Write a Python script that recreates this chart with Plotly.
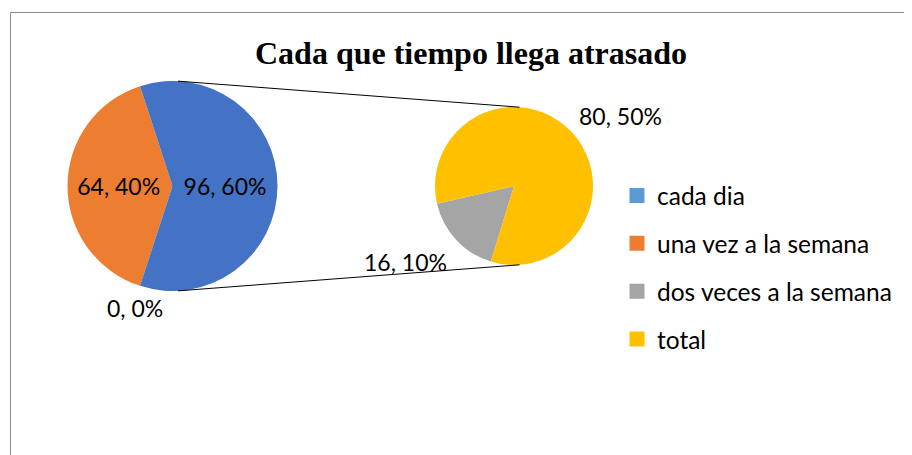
import math
import plotly.graph_objects as go

# ---------------- data ----------------
categories = ["cada dia", "una vez a la semana", "dos veces a la semana", "total"]
values = [0, 64, 16, 80]
legend_colors = ["#5B9BD5", "#ED7D31", "#A5A5A5", "#FFC000"]
other_label = "Otro"
other_color = "#4472C4"
title_text = "Cada que tiempo llega atrasado"

grand_total = sum(values)

# first pie: first two categories + the aggregated "other" slice
main_labels = [categories[0], categories[1], other_label]
main_values = [values[0], values[1], values[2] + values[3]]
main_colors = [legend_colors[0], legend_colors[1], other_color]
main_pct = [f"{round(100 * v / grand_total)}%" for v in main_values]

# second pie: the split-out categories
sec_labels = categories[2:]
sec_values = values[2:]
sec_colors = legend_colors[2:]
sec_pct = [f"{round(100 * v / grand_total)}%" for v in sec_values]

# ---------------- layout helpers ----------------
W, H = 912, 455
FONT = "Lato"
OFF = 8  # page body margin


def px(x):
    return (x - OFF) / W


def py(y):
    return 1 - (y - OFF) / H


main_c = (172.5, 186.0)
main_r = 105.0
sec_c = (514.0, 186.0)
sec_r = 79.0


def dom(c, r):
    return dict(x=[px(c[0] - r), px(c[0] + r)], y=[py(c[1] + r), py(c[1] - r)])


fig = go.Figure()

# legend entries (tiny pies hidden below the main pie)
for i, (lab, col) in enumerate(zip(categories, legend_colors)):
    fig.add_trace(go.Pie(
        labels=[lab], values=[1],
        marker=dict(colors=[col], line=dict(color=col, width=3)),
        domain=dom(main_c, 0.5), textinfo="none", hoverinfo="skip",
        legendgroup=f"g{i}", showlegend=True, sort=False,
    ))

fig.add_trace(go.Pie(
    labels=main_labels, values=main_values, customdata=main_pct,
    marker=dict(colors=main_colors, line=dict(width=0)),
    domain=dom(main_c, main_r), sort=False, direction="clockwise",
    rotation=198, texttemplate=["", "%{value}, %{customdata}", "%{value}, %{customdata}"],
    textposition="inside",
    insidetextorientation="horizontal",
    textfont=dict(family=FONT, size=23, color="#000000"),
    showlegend=False, hoverinfo="label+value",
))

fig.add_trace(go.Pie(
    labels=sec_labels, values=sec_values, customdata=sec_pct,
    marker=dict(colors=sec_colors, line=dict(width=0)),
    domain=dom(sec_c, sec_r), sort=False, direction="clockwise",
    rotation=197, textinfo="none",
    showlegend=False, hoverinfo="label+value",
))

# outside data labels (Excel best-fit style placement: angle in degrees, distance in radii)
annotations = []
outside = [
    (main_values[0], main_pct[0], main_c, main_r, 253, 1.215),
    (sec_values[0], sec_pct[0], sec_c, sec_r, 215, 1.67),
    (sec_values[1], sec_pct[1], sec_c, sec_r, 33.4, 1.61),
]
for v, pct, c, r, a, d in outside:
    ax = c[0] + d * r * math.cos(math.radians(a))
    ay = c[1] - d * r * math.sin(math.radians(a))
    annotations.append(dict(x=px(ax), y=py(ay), xref="paper", yref="paper",
                            text=f"{v}, {pct}", showarrow=False,
                            xanchor="center", yanchor="middle",
                            font=dict(family=FONT, size=23, color="#000000")))

# connector lines between the pies
shapes = []
for s in (1, -1):
    x0 = main_c[0] + main_r * math.cos(math.radians(87))
    y0 = main_c[1] - s * main_r * math.sin(math.radians(87))
    x1 = sec_c[0] + sec_r * math.cos(math.radians(86))
    y1 = sec_c[1] - s * sec_r * math.sin(math.radians(86))
    shapes.append(dict(type="line", xref="paper", yref="paper",
                       x0=px(x0), y0=py(y0), x1=px(x1), y1=py(y1),
                       line=dict(color="#000000", width=1)))
# chart area border
shapes.append(dict(type="rect", xref="paper", yref="paper",
                   x0=px(10.5), y0=-0.05, x1=1.05, y1=py(12.5),
                   line=dict(color="#8c8c8c", width=1)))

fig.update_layout(
    width=W, height=H,
    margin=dict(l=0, r=0, t=0, b=0),
    paper_bgcolor="#ffffff", plot_bgcolor="#ffffff",
    title=dict(text=f"<b>{title_text}</b>", x=px(471), xanchor="center",
               y=py(53), yanchor="middle", yref="container",
               font=dict(family="Liberation Serif", size=32, color="#000000")),
    legend=dict(x=px(617), y=py(173), xanchor="left", yanchor="top",
                font=dict(family=FONT, size=24.5, color="#000000"),
                tracegroupgap=13, itemclick=False, itemdoubleclick=False),
    annotations=annotations,
    shapes=shapes,
)

fig.write_html("out.html")
